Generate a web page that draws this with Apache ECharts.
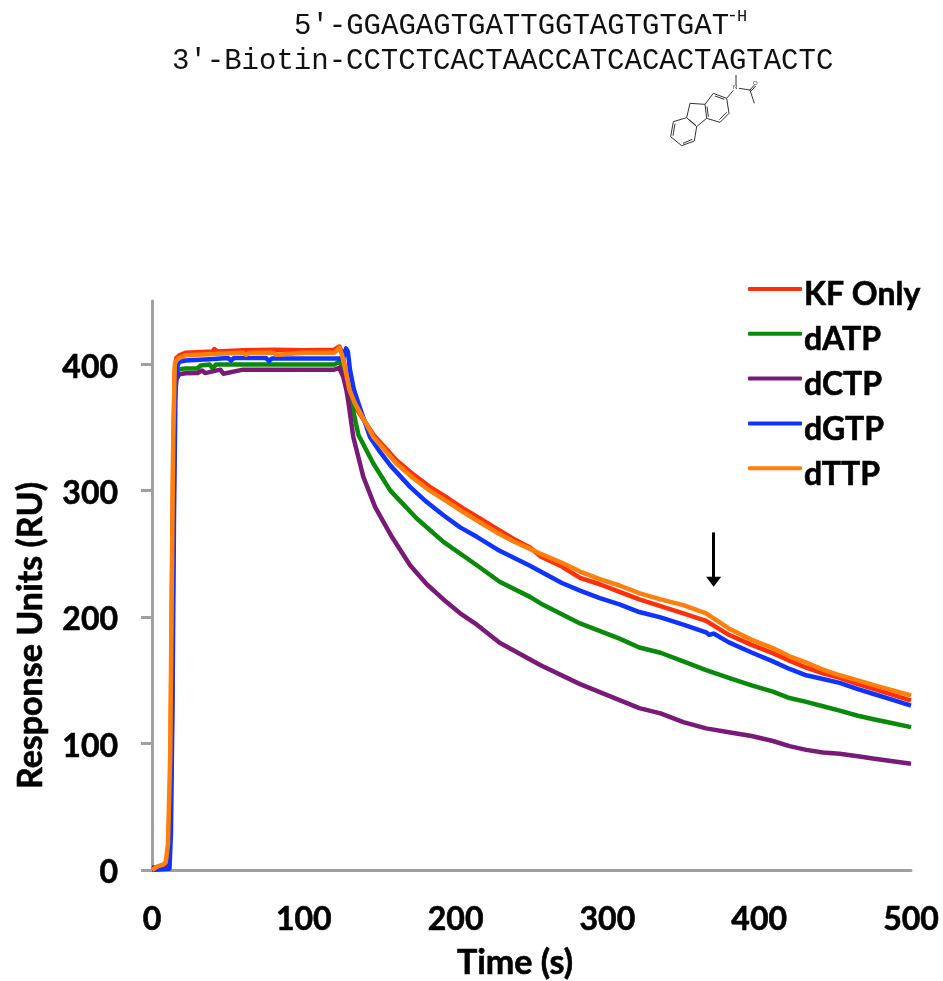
<!DOCTYPE html>
<html>
<head>
<meta charset="utf-8">
<style>html,body{margin:0;padding:0;background:#fff}#c{width:943px;height:981px}</style>
<script src="https://cdn.jsdelivr.net/npm/echarts@6/dist/echarts.min.js"></script>
</head>
<body>
<div id="c"></div>
<script>
const seriesNames = ['KF Only','dATP','dCTP','dGTP','dTTP'];
const lineColors = ['#ff2f0a','#0a8a0a','#7a1a78','#1034ff','#ff7f0a'];
const xTicks = [0,100,200,300,400,500];
const yTicks = [0,100,200,300,400];

const kfTime = [0,4,7,9,10.5,12,13,14,15,16,18,22,40,41,43,60,80,100,120,123.4,125,127,130,134,146,161,172,183,195,205,216,227,238,249,256,270,282,295,308,321,335,350,365,380,395,409,420,431,442,453,465,476,488,500];
const kfValues = [0,2,4,5,12,50,200,330,395,405,407,409,410,412,410,411,411.5,411,411.5,414,410,398,380,366,344,324,313,303,294,286,278,270,262,255,248,240,231,226,220,214,208.7,203,197,186,178,171.5,165.5,160,155.5,152,147,143,138.5,134];

const datpTime = [0,10,11.5,13,14,15,16,18,22,30,32,38,40,42,60,80,100,120,123.4,125,127,129,131.5,136,145.8,157,174.4,192,214,229,249,256,282,308,321,335,350,365,380,395,409,420,431,442,453,465,476,488,500];
const datpValues = [1,2,10,120,290,380,394,396,396.7,396.7,399,399.7,396.5,399.7,399.7,399.7,399.7,399.7,402,398,388,378,369,344,321.5,300,278,259.5,241,228,216,210.8,195,183,176,171.8,165,158,152,146,141,136,133,129.5,126,122,119,116,113];

const dctpTime = [0,10,11.5,13,14,15,16,18,22,30,33,35,45,47,60,80,100,120,123.4,126,128,129.5,132.6,139.2,147,158,170,181,192,203,214,229,256,282,308,321,335,350,365,380,395,409,420,431,442,453,465,476,488,500];
const dctpValues = [2,2,8,100,260,370,388,392,392.8,393,395,393,395.7,392.5,395.7,395.7,395.7,395.7,397,390,380,369,342.5,311,287,263.5,241,226,214,203,194,179.7,162,147,134.4,128,123.9,117,112,109,106,102,98,95,93,92,90,88,86,84];

const dgtpTime = [0,11.5,12.5,13.5,14.5,15.5,16.5,18,22,38,50,52,54,75,77,79,100,123,126,127.8,129,130.5,133,136,143.6,150,157,170,181,192,203,214,229,249,256,270,282,295,308,321,335,350,365,367,370,380,395,409,420,431,442,453,465,476,488,500];
const dgtpValues = [0,1,30,130,280,380,398,402,403,404,405,403,405,405,402.5,404.5,404.5,404.5,405,412.5,410,395,380,369,342.5,331,320,303,291,280.6,271,263.5,252.4,240.6,236,227,221,215,210,204,199.8,194,188,186,187,180,172,165,159,154,151,148,143,139,134.5,130];

const dttpTime = [0,4,7,9,10.5,12,13,14,15,16,18,22,40,60,62,64,80,82,100,120,123.4,125,127,130,133.7,145.8,161,172,183,195,205,216,227,238,249,256,270,282,295,308,321,335,350,365,380,395,409,420,431,442,453,465,476,488,500];
const dttpValues = [0,3,4,6,20,90,221,340,400,403,405,407,408,409,407.5,409,409,407.5,409,409,413,408,398,380,369,342.5,321.5,310,300,291,283,275,267,260,254,250,243,236,230,225,219,214,209.5,203,191,182,175.5,169,164,158.5,154,150,146,142,138];

const arrowTime = [370,370];
const arrowValues = [267,228];

const font = 'Lato';
const heavy = {fontFamily:font,fontWeight:'bold',color:'#000',textBorderColor:'#000',textBorderWidth:0.6};
function zip(t,v){ return t.map((x,i)=>[x,v[i]]); }
const tables = [[kfTime,kfValues],[datpTime,datpValues],[dctpTime,dctpValues],[dgtpTime,dgtpValues],[dttpTime,dttpValues]];

const series = seriesNames.map((n,i)=>({
  name:n, type:'line', data:zip(tables[i][0],tables[i][1]), showSymbol:false, symbol:'none', smooth:false,
  lineStyle:{color:lineColors[i],width:4.5,join:'round'}, itemStyle:{color:lineColors[i]}, silent:true, z:2+i,
  animation:false
}));
series[4].markLine = {
  silent:true, animation:false, symbol:['none','triangle'], symbolSize:[15,10], precision:5,
  label:{show:false}, emphasis:{disabled:true},
  lineStyle:{color:'#000',width:3,type:'solid'}, itemStyle:{color:'#000'},
  data:[[{coord:[arrowTime[0],arrowValues[0]]},{coord:[arrowTime[1],arrowValues[1]]}]]
};

function bond(a,b,w){
  return {type:'line',silent:true,shape:{x1:655+a[0]/3,y1:75+a[1]/3,x2:655+b[0]/3,y2:75+b[1]/3},style:{stroke:'#333',lineWidth:w||1}};
}
const molBonds = [
 [[175,55],[215,70]],[[215,70],[222,115]],[[222,115],[195,142]],[[195,142],[155,130]],[[155,130],[150,88]],[[150,88],[175,55]],
 [[150,88],[105,85]],[[105,85],[95,128]],[[95,128],[125,155]],[[125,155],[155,130]],
 [[95,128],[55,140]],[[55,140],[47,185]],[[47,185],[80,212]],[[80,212],[118,198]],[[118,198],[125,155]],
 [[215,70],[235,46]],[[243,32],[243,0]],[[252,40],[285,45]],[[285,45],[298,30]],[[285,45],[298,85]],
 [[180,63],[208,73]],[[215,112],[193,134]],[[160,125],[156,95]],[[100,133],[122,150]],[[60,146],[54,182]],[[84,205],[112,193]],[[288,48],[302,33]]
];

const chart = echarts.init(document.getElementById('c'),null,{renderer:'canvas'});
chart.setOption({
  animation:false,
  backgroundColor:'#fff',
  grid:{left:152,top:301,width:759,height:569,containLabel:false,outerBoundsMode:'none'},
  xAxis:{type:'value',min:0,max:500,interval:100,
    name:'Time (s)',nameLocation:'middle',nameGap:76,
    nameTextStyle:Object.assign({fontSize:34,padding:[0,33,0,0]},heavy),
    axisLine:{onZero:false,lineStyle:{color:'#a0a0a0',width:3}},
    axisTick:{show:false},splitLine:{show:false},
    axisLabel:Object.assign({margin:34,fontSize:32,showMinLabel:true,showMaxLabel:true,
      formatter:v=>xTicks.includes(v)?String(v):''},heavy)},
  yAxis:{type:'value',min:0,max:450,interval:100,
    name:'Response Units (RU)',nameLocation:'middle',nameGap:104,nameRotate:90,
    nameTextStyle:Object.assign({fontSize:34,padding:[0,100,0,0]},heavy),
    axisLine:{show:true,lineStyle:{color:'#a0a0a0',width:3}},
    axisTick:{show:true,length:11,lineStyle:{color:'#a0a0a0',width:3}},splitLine:{show:false},
    axisLabel:Object.assign({margin:34,fontSize:32,showMaxLabel:false,verticalAlign:'top',lineHeight:6,
      formatter:v=>yTicks.includes(v)?String(v):''},heavy)},
  legend:{show:true,orient:'vertical',left:748,top:267,icon:'roundRect',itemWidth:54,itemHeight:4,itemGap:0.5,padding:0,
    selectedMode:false,
    formatter:n=>'{a|'+n+'}',
    textStyle:Object.assign({fontSize:32,padding:[0,0,0,-3],
      rich:{a:Object.assign({fontSize:32,lineHeight:37,padding:[12,0,0,0]},heavy)}},heavy),
    data:seriesNames},
  graphic:[
    {type:'text',silent:true,left:294,top:12,style:{text:'5\u2032-GGAGAGTGATTGGTAGTGTGAT',font:'29px "Liberation Mono"',fill:'#111'}},
    {type:'text',silent:true,left:727,top:7,style:{text:'-',font:'18px "Liberation Mono"',fill:'#111'}},
    {type:'text',silent:true,left:737,top:8,style:{text:'H',font:'17px "Liberation Mono"',fill:'#111'}},
    {type:'text',silent:true,left:172,top:47,style:{text:'3\u2032-Biotin-CCTCTCACTAACCATCACACTAGTACTC',font:'29px "Liberation Mono"',fill:'#111'}},
    {type:'text',silent:true,left:733,top:84,style:{text:'N',font:'6px "Liberation Sans"',fill:'#333'}},
    {type:'text',silent:true,left:753,top:80,style:{text:'O',font:'6px "Liberation Sans"',fill:'#333'}}
  ].concat(molBonds.map(b=>bond(b[0],b[1]))),
  series:series
});
</script>
</body>
</html>
